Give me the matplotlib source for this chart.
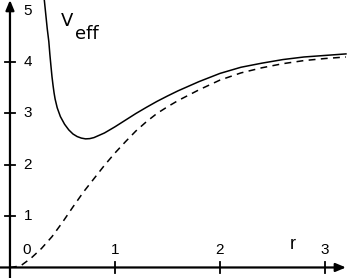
import matplotlib
matplotlib.use('Agg')
import matplotlib.pyplot as plt

# effective potential (solid)
r_eff = [0.32, 0.34, 0.355, 0.37, 0.38, 0.39, 0.40, 0.41, 0.42, 0.43, 0.45,
         0.48, 0.52, 0.56, 0.60, 0.64, 0.68, 0.72, 0.76, 0.80, 0.85, 0.90,
         0.95, 1.00, 1.10, 1.20, 1.30, 1.40, 1.50, 1.60, 1.80, 2.00, 2.20,
         2.40, 2.60, 2.80, 3.00, 3.20]
v_eff = [5.35, 4.95, 4.65, 4.40, 4.15, 3.93, 3.72, 3.55, 3.40, 3.28, 3.11,
         2.94, 2.79, 2.68, 2.60, 2.55, 2.52, 2.505, 2.51, 2.53, 2.575, 2.62,
         2.68, 2.74, 2.87, 3.00, 3.12, 3.235, 3.34, 3.44, 3.62, 3.78, 3.90,
         3.98, 4.05, 4.10, 4.13, 4.16]

# potential without the centrifugal term (dashed)
r_pot = [0.0, 0.1, 0.2, 0.3, 0.4, 0.5, 0.6, 0.7, 0.8, 0.9, 1.0, 1.1, 1.2,
         1.3, 1.4, 1.5, 1.6, 1.8, 2.0, 2.2, 2.4, 2.6, 2.8, 3.0, 3.2]
v_pot = [0.0, 0.03, 0.18, 0.37, 0.60, 0.88, 1.18, 1.47, 1.73, 1.99, 2.23,
         2.45, 2.66, 2.84, 3.00, 3.13, 3.25, 3.46, 3.65, 3.79, 3.89, 3.97,
         4.03, 4.07, 4.10]

x_ticks = [1, 2, 3]
y_ticks = [1, 2, 3, 4, 5]

fig = plt.figure(figsize=(3.47, 2.78), dpi=100)
ax = fig.add_axes([0, 0, 1, 1])
ax.set_xlim(-0.095, 3.21)
ax.set_ylim(-0.205, 5.21)
ax.axis('off')

ax.plot(r_eff, v_eff, color='black', lw=1.1)
ax.plot(r_pot, v_pot, color='black', lw=1.1, dashes=(4.5, 3.5))

# axes with arrow heads
ax.annotate('', xy=(3.2, 0), xytext=(-0.095, 0),
            arrowprops=dict(arrowstyle='-|>,head_width=0.25,head_length=0.6',
                            color='black', lw=1.6, shrinkA=0, shrinkB=0))
ax.annotate('', xy=(0, 5.21), xytext=(0, -0.205),
            arrowprops=dict(arrowstyle='-|>,head_width=0.25,head_length=0.6',
                            color='black', lw=1.6, shrinkA=0, shrinkB=0))

# tick marks crossing the axes
for t in x_ticks:
    ax.plot([t, t], [-0.11, 0.11], color='black', lw=1.3)
    ax.text(t, 0.34, str(t), ha='center', va='center', fontsize=11,
            family='Liberation Sans')
for t in y_ticks[:-1]:
    ax.plot([-0.05, 0.05], [t, t], color='black', lw=1.3)
for t in y_ticks:
    ax.text(0.17, t, str(t), ha='center', va='center', fontsize=11,
            family='Liberation Sans')

ax.text(0.16, 0.34, '0', ha='center', va='center', fontsize=11,
        family='Liberation Sans')
ax.text(2.69, 0.44, 'r', ha='center', va='center', fontsize=13,
        family='Liberation Sans')

ax.text(0.54, 4.8, 'V', ha='center', va='center', fontsize=13)
ax.text(0.615, 4.55, 'eff', ha='left', va='center', fontsize=13)

plt.savefig('out.png', dpi=100)
